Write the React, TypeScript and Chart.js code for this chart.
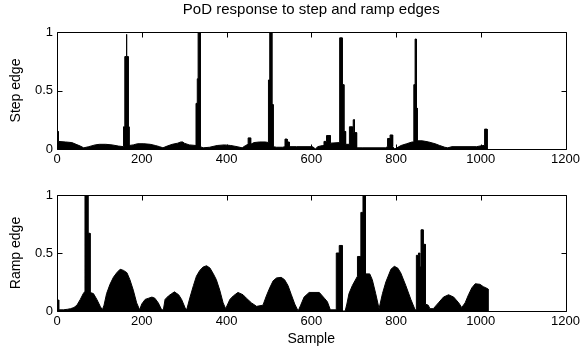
import React, { useEffect, useRef } from 'react';
import { Chart, registerables } from 'chart.js';
Chart.register(...registerables);

const chartTitle = 'PoD response to step and ramp edges';
const stepLabel = 'Step edge';
const rampLabel = 'Ramp edge';
const xLabel = 'Sample';
const xTicks = [0, 200, 400, 600, 800, 1000, 1200];
const yTicks = [0, 0.5, 1];

const stepSamples = [
  0, 0, 3, 3, 20, 35, 45, 55, 63, 75, 90, 100, 115, 130, 145, 157, 157, 160, 160, 163, 163, 165, 165, 168, 168, 170, 170,
  180, 190, 205, 220, 232, 242, 250, 260, 272, 285, 292, 297, 300, 312, 328, 328, 331, 331, 333, 333, 338, 338,
  345, 360, 378, 395, 410, 425, 437, 445, 451, 451, 457, 457, 465, 478, 492, 499, 499, 502, 502, 507, 507, 510, 510,
  518, 532, 538, 538, 543, 543, 548, 548, 565, 603, 610, 615, 627, 630, 630, 636, 636, 645, 645,
  667, 667, 673, 673, 677, 677, 681, 681, 690, 690, 697, 697, 699, 699, 702, 702, 707, 707,
  720, 775, 780, 780, 786, 786, 792, 792, 797, 802, 812, 825, 838, 842, 842, 845, 845, 848, 848, 850, 850,
  862, 877, 892, 903, 915, 922, 932, 990, 1005, 1009, 1009, 1015, 1015,
];
const stepValues = [
  0, 0.15, 0.15, 0.065, 0.06, 0.055, 0.04, 0.025, 0.01, 0.02, 0.035, 0.04, 0.04, 0.035, 0.025, 0.02, 0.19, 0.19, 0.79, 0.79, 0.98, 0.98, 0.79, 0.79, 0.19, 0.19, 0.03,
  0.035, 0.045, 0.045, 0.04, 0.03, 0.02, 0.01, 0.025, 0.04, 0.05, 0.06, 0.06, 0.05, 0.035, 0.03, 0.39, 0.39, 0.6, 0.6, 1.0, 1.0, 0.02,
  0.01, 0.015, 0.03, 0.035, 0.03, 0.02, 0.01, 0.03, 0.04, 0.095, 0.095, 0.04, 0.055, 0.06, 0.06, 0.055, 0.59, 0.59, 1.0, 1.0, 0.38, 0.38, 0.02,
  0.015, 0.015, 0.02, 0.085, 0.085, 0.06, 0.06, 0.02, 0.02, 0.02, 0.0, 0.02, 0.03, 0.03, 0.065, 0.065, 0.115, 0.115, 0.05,
  0.055, 0.95, 0.95, 0.55, 0.55, 0.15, 0.15, 0.04, 0.04, 0.19, 0.19, 0.14, 0.14, 0.25, 0.25, 0.14, 0.14, 0.01,
  0.01, 0.01, 0.02, 0.09, 0.09, 0.12, 0.12, 0.02, 0.0, 0.01, 0.03, 0.045, 0.06, 0.06, 0.55, 0.55, 0.94, 0.94, 0.35, 0.35, 0.07,
  0.07, 0.06, 0.045, 0.03, 0.015, 0.01, 0.02, 0.02, 0.03, 0.03, 0.17, 0.17, 0,
];

const rampSamples = [
  0, 1, 1, 4, 4, 15, 25, 32, 40, 47, 55, 62, 66, 66, 73, 73, 78, 78, 86, 94, 102, 107,
  111, 117, 125, 133, 141, 149, 157, 165, 172, 180, 188, 195,
  200, 208, 216, 224, 231, 239, 247, 251, 255, 263, 271, 277, 287, 294, 302, 306,
  314, 322, 329, 337, 345, 353, 361, 369, 376, 384, 392, 398,
  408, 416, 427, 439, 447, 459, 471, 486, 494, 502, 510, 518, 529, 537, 545, 553, 561, 569,
  575, 583, 595, 619, 631, 638, 645, 659, 659, 666, 666, 673, 673, 680,
  684, 689, 697, 709, 709, 717, 717, 722, 722, 728, 728, 738, 744, 752, 760,
  768, 776, 788, 796, 804, 811, 823, 835, 845, 848, 848, 853, 853, 856, 856, 859, 859, 864, 864, 869, 869,
  876, 880, 888, 900, 912, 924, 936, 948, 955, 963, 971, 979, 987, 998, 1006, 1012, 1017, 1017,
];
const rampValues = [
  0, 0.01, 0.095, 0.095, 0.01, 0.01, 0.015, 0.02, 0.03, 0.05, 0.1, 0.15, 0.17, 1.0, 1.0, 0.67, 0.67, 0.16, 0.15, 0.1, 0.04, 0.01,
  0.05, 0.15, 0.23, 0.29, 0.33, 0.36, 0.35, 0.33, 0.27, 0.18, 0.07, 0.01,
  0.06, 0.1, 0.11, 0.12, 0.11, 0.07, 0.01, 0.01, 0.1, 0.13, 0.15, 0.165, 0.14, 0.1, 0.03, 0.01,
  0.12, 0.22, 0.3, 0.35, 0.38, 0.39, 0.37, 0.32, 0.27, 0.18, 0.07, 0.02,
  0.1, 0.13, 0.16, 0.14, 0.11, 0.07, 0.04, 0.05, 0.13, 0.2, 0.26, 0.285, 0.29, 0.27, 0.22, 0.14, 0.06, 0.0,
  0.05, 0.12, 0.16, 0.16, 0.11, 0.08, 0.01, 0.01, 0.5, 0.5, 0.565, 0.565, 0.0, 0.0,
  0.06, 0.15, 0.22, 0.3, 0.47, 0.47, 0.85, 0.85, 1.0, 1.0, 0.32, 0.32, 0.27, 0.15, 0.02,
  0.15, 0.25, 0.36, 0.385, 0.37, 0.33, 0.22, 0.1, 0.01, 0.01, 0.48, 0.48, 0.5, 0.5, 0.38, 0.38, 0.7, 0.7, 0.575, 0.575, 0.06,
  0.05, 0.02, 0.02, 0.07, 0.12, 0.14, 0.12, 0.07, 0.03, 0.07, 0.14, 0.2, 0.235, 0.23, 0.21, 0.2, 0.19, 0,
];

const FONT = '"Liberation Sans", Arial, Helvetica, sans-serif';
const W = 583;
const H = 175;

const boxPlugin = {
  id: 'boxTicks',
  afterDatasetsDraw(chart: any) {
    const { ctx, chartArea: a, scales } = chart;
    const x = scales.x;
    const y = scales.y;
    ctx.save();
    ctx.strokeStyle = '#000';
    ctx.lineWidth = 1;
    const l = Math.round(a.left) + 0.5;
    const r = Math.round(a.right) + 0.5;
    const t = Math.round(a.top) + 0.5;
    const b = Math.round(a.bottom) + 0.5;
    ctx.beginPath();
    ctx.rect(l, t, r - l, b - t);
    const len = 5;
    xTicks.forEach((v) => {
      const px = Math.round(x.getPixelForValue(v)) + 0.5;
      ctx.moveTo(px, b);
      ctx.lineTo(px, b - len);
      ctx.moveTo(px, t);
      ctx.lineTo(px, t + len);
    });
    yTicks.forEach((v) => {
      const py = Math.round(y.getPixelForValue(v)) + 0.5;
      ctx.moveTo(l, py);
      ctx.lineTo(l + len, py);
      ctx.moveTo(r, py);
      ctx.lineTo(r - len, py);
    });
    ctx.stroke();
    ctx.restore();
  },
};

const titlePlugin = {
  id: 'figTitle',
  afterDraw(chart: any) {
    const opts = chart.options.plugins.figTitle;
    if (!opts || !opts.text) return;
    const { ctx, chartArea: a } = chart;
    ctx.save();
    ctx.fillStyle = '#000';
    ctx.font = `15px ${FONT}`;
    ctx.textAlign = 'center';
    ctx.textBaseline = 'middle';
    ctx.fillText(opts.text, (a.left + a.right) / 2, opts.y);
    ctx.restore();
  },
};

function makeConfig(samples: number[], values: number[], yTitle: string, top: number, withX: boolean, heading: string) {
  const pts = samples.map((s, i) => ({ x: s, y: values[i] }));
  return {
    type: 'line' as const,
    data: {
      datasets: [
        {
          data: pts,
          borderColor: '#000',
          backgroundColor: '#000',
          borderWidth: 1,
          pointRadius: 0,
          fill: 'origin',
          tension: 0,
        },
      ],
    },
    options: {
      animation: false,
      responsive: false,
      maintainAspectRatio: false,
      layout: { padding: { left: 0, right: 16, top, bottom: 0 } },
      plugins: {
        legend: { display: false },
        tooltip: { enabled: false },
        figTitle: { text: heading, y: 10 },
      },
      scales: {
        x: {
          type: 'linear',
          min: 0,
          max: 1200,
          grid: { display: false, drawTicks: false },
          border: { display: false },
          afterBuildTicks: (s: any) => {
            s.ticks = xTicks.map((v) => ({ value: v }));
          },
          afterFit: (s: any) => {
            s.height = withX ? 39 : 26;
          },
          ticks: {
            color: '#000',
            font: { size: 13, family: FONT },
            padding: 3,
            maxRotation: 0,
            autoSkip: false,
            callback: (v: any) => String(v),
          },
          title: {
            display: withX,
            text: xLabel,
            color: '#000',
            font: { size: 14, family: FONT },
            padding: { top: 0, bottom: 2 },
          },
        },
        y: {
          type: 'linear',
          min: 0,
          max: 1,
          grid: { display: false, drawTicks: false },
          border: { display: false },
          afterBuildTicks: (s: any) => {
            s.ticks = yTicks.map((v) => ({ value: v }));
          },
          afterFit: (s: any) => {
            s.width = 57;
          },
          ticks: {
            color: '#000',
            font: { size: 13, family: FONT },
            padding: 4,
            callback: (v: any) => String(v),
          },
          title: {
            display: true,
            text: yTitle,
            color: '#000',
            font: { size: 14, family: FONT },
            padding: { top: 8, bottom: 0 },
          },
        },
      },
    },
    plugins: [boxPlugin, titlePlugin],
  };
}

export default function App() {
  const topRef = useRef<HTMLCanvasElement>(null);
  const botRef = useRef<HTMLCanvasElement>(null);

  useEffect(() => {
    const c1 = new Chart(topRef.current as any, makeConfig(stepSamples, stepValues, stepLabel, 32, false, chartTitle) as any);
    const c2 = new Chart(botRef.current as any, makeConfig(rampSamples, rampValues, rampLabel, 20, true, '') as any);
    return () => {
      c1.destroy();
      c2.destroy();
    };
  }, []);

  return (
    <div style={{ position: 'fixed', left: 0, top: 0, width: W, height: 2 * H, background: '#fff' }}>
      <canvas ref={topRef} width={W} height={H} style={{ position: 'absolute', left: 0, top: 0, width: W, height: H }} />
      <canvas ref={botRef} width={W} height={H} style={{ position: 'absolute', left: 0, top: H, width: W, height: H }} />
    </div>
  );
}
